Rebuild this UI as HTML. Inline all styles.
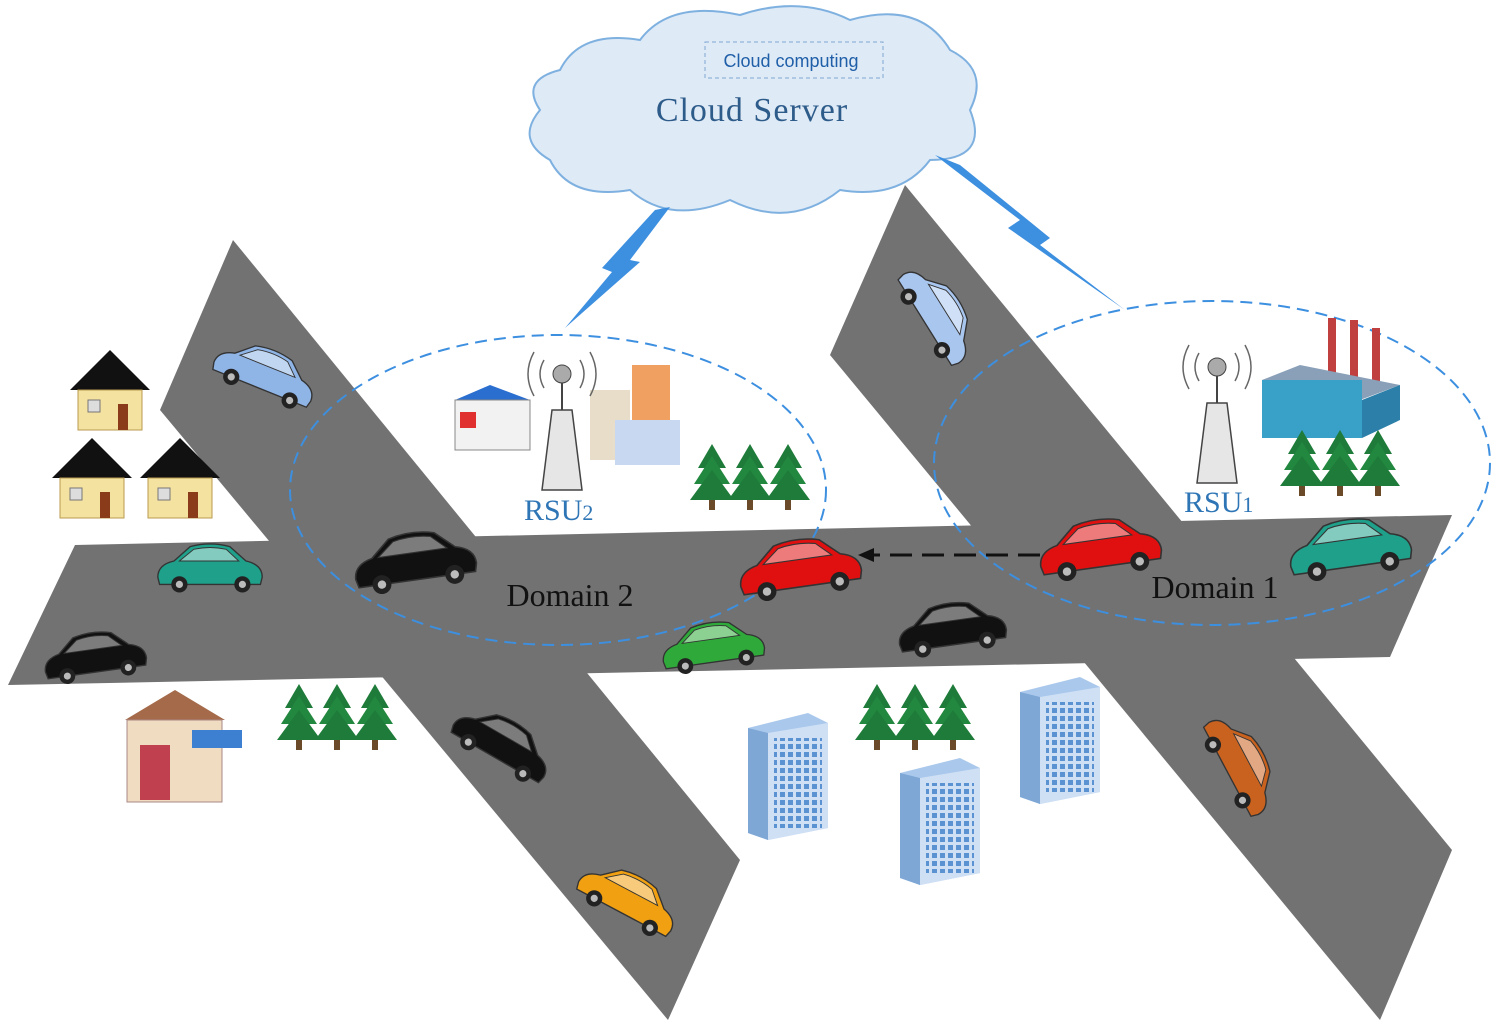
<!DOCTYPE html>
<html><head><meta charset="utf-8"><style>
html,body{margin:0;padding:0;background:#fff;}
svg{display:block;}
</style></head><body>
<svg width="1493" height="1026" viewBox="0 0 1493 1026" xmlns="http://www.w3.org/2000/svg">
<defs>
<g id="car">
  <path d="M-58,8 Q-58,-6 -40,-10 L-22,-26 Q0,-32 22,-26 L40,-10 Q58,-6 58,8 L56,16 L-56,16 Z" fill="currentColor" stroke="#333" stroke-width="1.5"/>
  <path d="M-34,-10 L-18,-23 Q0,-27 18,-23 L32,-10 Z" fill="#fff" fill-opacity="0.45" stroke="#333" stroke-width="1"/>
  <circle cx="-34" cy="16" r="9" fill="#222"/><circle cx="-34" cy="16" r="4" fill="#bbb"/>
  <circle cx="36" cy="16" r="9" fill="#222"/><circle cx="36" cy="16" r="4" fill="#bbb"/>
</g>
<g id="tree">
  <polygon points="0,-38 -14,-14 14,-14" fill="#1e7b3a"/>
  <polygon points="0,-26 -18,2 18,2" fill="#23883f"/>
  <polygon points="0,-12 -22,18 22,18" fill="#1e7b3a"/>
  <rect x="-3" y="18" width="6" height="10" fill="#6b4a2a"/>
</g>
<g id="trees">
  <use href="#tree" x="-38" y="0"/><use href="#tree" x="0" y="0"/><use href="#tree" x="38" y="0"/>
</g>
<pattern id="win" width="8" height="8" patternUnits="userSpaceOnUse"><rect width="5" height="5" fill="#5b93d2"/></pattern>
<g id="tower">
  <polygon points="0,0 60,-15 80,-5 80,100 20,112 0,105" fill="#a9c8ec"/>
  <polygon points="0,0 20,5 20,112 0,105" fill="#7ea7d6"/>
  <polygon points="20,5 80,-5 80,100 20,112" fill="#cfe0f5"/>
  <rect x="26" y="10" width="48" height="90" fill="url(#win)"/>
</g>
<g id="house">
  <polygon points="0,-40 -40,0 40,0" fill="#111"/>
  <rect x="-32" y="0" width="64" height="40" fill="#f4e2a0" stroke="#b89b50"/>
  <rect x="-22" y="10" width="12" height="12" fill="#ddd" stroke="#777"/>
  <rect x="8" y="14" width="10" height="26" fill="#8a3b1a"/>
</g>
<g id="rsu">
  <polygon points="-10,0 10,0 20,80 -20,80" fill="#e6e6e6" stroke="#444" stroke-width="1.5"/>
  <line x1="0" y1="-30" x2="0" y2="0" stroke="#444" stroke-width="2"/>
  <circle cx="0" cy="-36" r="9" fill="#aaa" stroke="#444"/>
  <path d="M-18,-50 Q-26,-36 -18,-22 M18,-50 Q26,-36 18,-22 M-28,-58 Q-40,-36 -28,-14 M28,-58 Q40,-36 28,-14" fill="none" stroke="#666" stroke-width="1.5"/>
</g>
</defs>

<g fill="#727272">
  <polygon points="233,240 160,410 668,1020 740,860"/>
  <polygon points="905,185 830,355 1380,1020 1452,850"/>
  <polygon points="75,545 1452,515 1390,657 8,685"/>
</g>

<path d="M560,70 Q580,30 640,40 Q670,0 740,15 Q800,-5 850,20 Q920,0 950,50 Q990,70 970,110 Q990,160 930,160 Q900,200 840,190 Q790,230 730,200 Q670,225 630,190 Q570,200 550,160 Q515,140 540,110 Q520,80 560,70 Z" fill="#dfeaf7" stroke="#7fb1e0" stroke-width="2"/>
<rect x="705" y="42" width="178" height="36" fill="none" stroke="#7fa6cf" stroke-dasharray="4,3"/>
<text x="791" y="67" font-family="Liberation Sans, sans-serif" font-size="18" fill="#1f5fa8" text-anchor="middle">Cloud computing</text>
<text x="752" y="121" font-family="Liberation Serif, serif" font-size="34" fill="#2e5c8a" text-anchor="middle" letter-spacing="1">Cloud Server</text>

<polygon points="670,207 630,260 640,262 565,328 612,272 602,268 655,210" fill="#3d8fe0"/>
<polygon points="935,155 1020,220 1008,228 1125,310 1040,245 1050,238 960,165" fill="#3d8fe0"/>

<ellipse cx="558" cy="490" rx="268" ry="155" fill="none" stroke="#3d8fe0" stroke-width="2" stroke-dasharray="12,7"/>
<ellipse cx="1212" cy="463" rx="278" ry="162" fill="none" stroke="#3d8fe0" stroke-width="2" stroke-dasharray="12,7"/>

<use href="#house" x="110" y="390"/>
<use href="#house" x="92" y="478"/>
<use href="#house" x="180" y="478"/>
<polygon points="125,720 175,690 225,720" fill="#a46a4a"/>
<rect x="127" y="720" width="95" height="82" fill="#f0dcc0" stroke="#a88"/>
<rect x="192" y="730" width="50" height="18" fill="#3d7fd0"/>
<rect x="140" y="745" width="30" height="55" fill="#c04050"/>
<polygon points="455,400 490,385 530,400 495,420" fill="#2a6ed0"/>
<rect x="455" y="400" width="75" height="50" fill="#f2f2f2" stroke="#888"/>
<rect x="460" y="412" width="16" height="16" fill="#e03030"/>
<rect x="590" y="390" width="40" height="70" fill="#e8ddc8"/>
<rect x="632" y="365" width="38" height="95" fill="#f0a060"/>
<rect x="615" y="420" width="65" height="45" fill="#c8d8f0"/>
<rect x="1328" y="318" width="8" height="60" fill="#c04040"/>
<rect x="1350" y="320" width="8" height="60" fill="#c04040"/>
<rect x="1372" y="328" width="8" height="55" fill="#c04040"/>
<polygon points="1262,380 1300,365 1400,385 1360,400" fill="#8aa0b8"/>
<rect x="1262" y="380" width="100" height="58" fill="#39a0c8"/>
<polygon points="1362,400 1400,385 1400,420 1362,438" fill="#2b7fa8"/>

<use href="#trees" x="750" y="482"/>
<use href="#trees" x="337" y="722"/>
<use href="#trees" x="1340" y="468"/>
<use href="#trees" x="915" y="722"/>

<use href="#tower" x="748" y="728"/>
<use href="#tower" x="900" y="773"/>
<use href="#tower" x="1020" y="692"/>

<use href="#rsu" x="562" y="410"/>
<use href="#rsu" x="1217" y="403"/>
<text x="524" y="520" font-family="Liberation Serif, serif" font-size="30" fill="#2e75b6">RSU<tspan font-size="22">2</tspan></text>
<text x="1184" y="512" font-family="Liberation Serif, serif" font-size="30" fill="#2e75b6">RSU<tspan font-size="22">1</tspan></text>

<use href="#car" color="#8fb4e6" transform="translate(265,375) rotate(22) scale(0.9)"/>
<use href="#car" color="#a9c6ee" transform="translate(937,315) rotate(58) scale(0.9)"/>
<use href="#car" color="#1fa08a" transform="translate(210,570) scale(0.9)"/>
<use href="#car" color="#111" transform="translate(415,563) rotate(-8) scale(1.05)"/>
<use href="#car" color="#e01010" transform="translate(800,570) rotate(-8) scale(1.05)"/>
<use href="#car" color="#e01010" transform="translate(1100,550) rotate(-8) scale(1.05)"/>
<use href="#car" color="#1fa08a" transform="translate(1350,550) rotate(-8) scale(1.05)"/>
<use href="#car" color="#111" transform="translate(95,658) rotate(-8) scale(0.88)"/>
<use href="#car" color="#2faa3a" transform="translate(713,648) rotate(-8) scale(0.88)"/>
<use href="#car" color="#111" transform="translate(952,630) rotate(-8) scale(0.93)"/>
<use href="#car" color="#111" transform="translate(502,745) rotate(30) scale(0.9)"/>
<use href="#car" color="#c8621e" transform="translate(1240,765) rotate(62) scale(0.9)"/>
<use href="#car" color="#f0a010" transform="translate(628,900) rotate(28) scale(0.9)"/>

<line x1="1040" y1="555" x2="872" y2="555" stroke="#111" stroke-width="3" stroke-dasharray="22,10"/>
<polygon points="858,555 874,548 874,562" fill="#111"/>

<text x="570" y="606" font-family="Liberation Serif, serif" font-size="32" fill="#111" text-anchor="middle">Domain 2</text>
<text x="1215" y="598" font-family="Liberation Serif, serif" font-size="32" fill="#111" text-anchor="middle">Domain 1</text>
</svg>
</body></html>
